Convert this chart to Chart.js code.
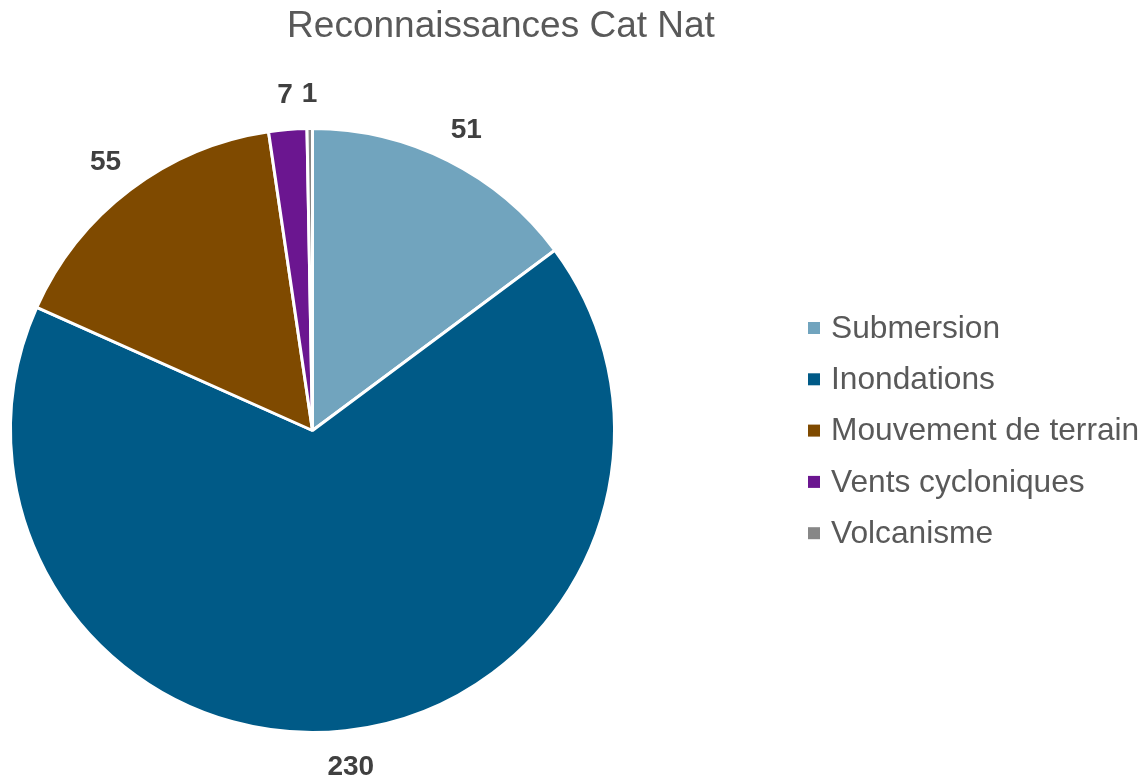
<!DOCTYPE html>
<html>
<head>
<meta charset="utf-8">
<script src="https://cdn.jsdelivr.net/npm/chart.js@4"></script>
<style>
  html, body { margin: 0; padding: 0; background: #fff; }
  #wrap { width: 1145px; height: 777px; position: relative; }
</style>
</head>
<body>
<div id="wrap"><canvas id="graphique"></canvas></div>
<script>
// Données
const categories = ["Submersion", "Inondations", "Mouvement de terrain", "Vents cycloniques", "Volcanisme"];
const valeurs = [51, 230, 55, 7, 1];
const couleurs = ["#71A4BE", "#005A87", "#7F4A00", "#6B1690", "#878787"];
const titre = "Reconnaissances Cat Nat";

const FONT = "'Liberation Sans', Arial, sans-serif";

// Titre dessiné à la main pour le placer comme sur l'original
const pluginTitre = {
  id: "titre",
  afterDraw(chart) {
    const ctx = chart.ctx;
    ctx.save();
    ctx.font = "37px " + FONT;
    ctx.fillStyle = "#595959";
    ctx.textAlign = "center";
    ctx.textBaseline = "middle";
    ctx.fillText(titre, 501, 27);
    ctx.restore();
  }
};

// Légende à droite, carrés + libellés
const pluginLegende = {
  id: "legende",
  afterDraw(chart) {
    const ctx = chart.ctx;
    ctx.save();
    ctx.font = "31.7px " + FONT;
    ctx.textBaseline = "middle";
    chart.data.labels.forEach((lab, i) => {
      const y = 328 + i * 51.3;
      ctx.fillStyle = couleurs[i];
      ctx.fillRect(808, y - 6, 12, 12);
      ctx.fillStyle = "#595959";
      ctx.fillText(lab, 831, y + 1);
    });
    ctx.restore();
  }
};

// Étiquettes de valeurs à l'extérieur des parts (boîte du texte posée à distance fixe du cercle)
const pluginEtiquettes = {
  id: "etiquettes",
  afterDatasetsDraw(chart) {
    const ctx = chart.ctx;
    const meta = chart.getDatasetMeta(0);
    const ecart = 25, h = 21;
    ctx.save();
    ctx.font = "bold 28px " + FONT;
    ctx.fillStyle = "#404040";
    ctx.textAlign = "center";
    ctx.textBaseline = "middle";
    meta.data.forEach((arc, i) => {
      const p = arc.getProps(["x", "y", "startAngle", "endAngle", "outerRadius"], true);
      const a = (p.startAngle + p.endAngle) / 2;
      const cx = Math.cos(a), cy = Math.sin(a);
      const txt = String(valeurs[i]);
      const w = ctx.measureText(txt).width;
      const d = p.outerRadius + ecart;
      ctx.fillText(txt, p.x + cx * d + cx * w / 2, p.y + cy * d + cy * h / 2 + 1);
    });
    ctx.restore();
  }
};

new Chart(document.getElementById("graphique").getContext("2d"), {
  type: "pie",
  data: {
    labels: categories,
    datasets: [{
      data: valeurs,
      backgroundColor: couleurs,
      borderColor: "#ffffff",
      borderWidth: 3,
      hoverOffset: 0
    }]
  },
  options: {
    responsive: true,
    maintainAspectRatio: false,
    animation: false,
    layout: { padding: { left: 9, right: 529, top: 127, bottom: 43 } },
    plugins: {
      legend: { display: false },
      title: { display: false },
      tooltip: { enabled: false }
    }
  },
  plugins: [pluginTitre, pluginLegende, pluginEtiquettes]
});
</script>
</body>
</html>
